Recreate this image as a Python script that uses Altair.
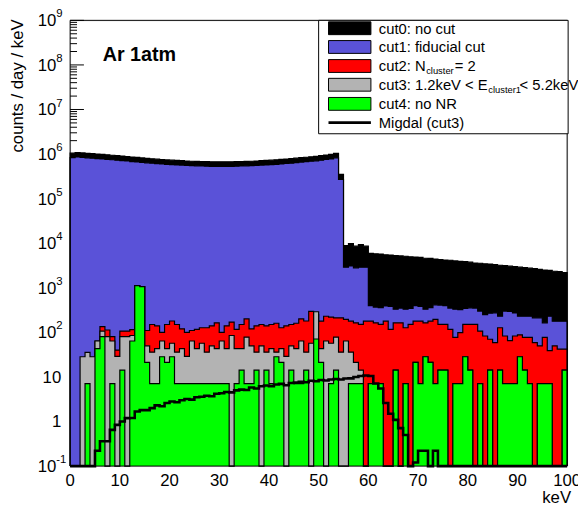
import altair as alt
import pandas as pd

# ---------------- data (1 keV bins, 0..99) ----------------
keV_edges = list(range(0, 101))

cut0 = [1.05e6, 1.08e6, 1.06e6, 1.04e6, 1.02e6, 1.0e6, 9.8e5, 9.6e5, 9.4e5, 9.2e5,
        9.0e5, 8.8e5, 8.6e5, 8.4e5, 8.2e5, 8.0e5, 7.85e5, 7.7e5, 7.55e5, 7.4e5,
        7.3e5, 7.2e5, 7.1e5, 7.0e5, 6.9e5, 6.85e5, 6.8e5, 6.75e5, 6.7e5, 6.7e5,
        6.7e5, 6.7e5, 6.7e5, 6.75e5, 6.8e5, 6.85e5, 6.9e5, 7.0e5, 7.1e5, 7.2e5,
        7.3e5, 7.45e5, 7.6e5, 7.75e5, 7.9e5, 8.1e5, 8.3e5, 8.5e5, 8.7e5, 8.9e5,
        9.2e5, 9.5e5, 9.8e5, 1.04e6, 3.5e5, 8.9e3, 9.8e3, 8.6e3, 9.3e3, 8.6e3,
        5.9e3, 5.8e3, 5.7e3, 5.5e3, 5.45e3, 5.3e3, 5.2e3, 5.1e3, 4.95e3, 4.9e3,
        4.8e3, 4.6e3, 4.55e3, 4.4e3, 4.3e3, 4.2e3, 4.15e3, 4.0e3, 3.9e3, 3.85e3,
        3.75e3, 3.6e3, 3.55e3, 3.45e3, 3.4e3, 3.3e3, 3.2e3, 3.15e3, 3.05e3, 3.0e3,
        2.9e3, 2.85e3, 2.75e3, 2.7e3, 2.6e3, 2.5e3, 2.45e3, 2.35e3, 2.3e3, 2.2e3]

cut1 = [8.3e5, 8.6e5, 8.4e5, 8.25e5, 8.1e5, 7.9e5, 7.8e5, 7.6e5, 7.45e5, 7.3e5,
        7.15e5, 7.0e5, 6.8e5, 6.65e5, 6.5e5, 6.35e5, 6.25e5, 6.1e5, 6.0e5, 5.85e5,
        5.8e5, 5.7e5, 5.65e5, 5.55e5, 5.5e5, 5.45e5, 5.4e5, 5.35e5, 5.3e5, 5.3e5,
        5.3e5, 5.3e5, 5.3e5, 5.35e5, 5.4e5, 5.45e5, 5.5e5, 5.55e5, 5.65e5, 5.7e5,
        5.8e5, 5.9e5, 6.0e5, 6.15e5, 6.25e5, 6.45e5, 6.6e5, 6.75e5, 6.9e5, 7.05e5,
        7.3e5, 7.55e5, 7.8e5, 8.25e5, 2.7e5, 2.9e3, 3.1e3, 2.8e3, 2.9e3, 2.9e3,
        400, 370, 360, 390, 380, 330, 350, 330, 345, 400,
        380, 330, 360, 415, 410, 400, 350, 330, 325, 345,
        355, 350, 300, 250, 270, 275, 230, 300, 295, 273,
        230, 230, 230, 212, 212, 164, 230, 178, 178, 178]

cut2 = [0, 0, 0, 0, 0, 64, 134, 113, 80, 40,
        107, 107, 115, 1120, 1060, 110, 150, 140, 100, 150,
        180, 150, 120, 100, 110, 117, 127, 127, 140, 164,
        100, 140, 170, 117, 150, 200, 120, 140, 150, 140,
        150, 160, 127, 140, 150, 160, 200, 180, 297, 251,
        178, 230, 220, 212, 212, 195, 178, 164, 151, 178,
        178, 164, 151, 178, 117, 164, 164, 127, 151, 178,
        178, 164, 178, 195, 151, 151, 117, 77, 99, 151,
        151, 151, 107, 83, 70, 59, 127, 83, 65, 83,
        88, 77, 77, 59, 50, 77, 39, 50, 42, 42]

cut3 = [0, 0, 28.4, 35.5, 28.4, 64, 107, 80, 64, 29,
        80, 80, 85, 1120, 1060, 50, 36, 43, 64, 43,
        57, 36, 43, 29, 64, 43, 57, 36, 50, 43,
        64, 43, 85, 43, 43, 78, 50, 36, 50, 36,
        43, 36, 43, 29, 50, 43, 64, 36, 57, 290,
        43, 64, 57, 78, 36, 64, 36, 21.3, 14.2, 0,
        7.1, 7.1, 7.1, 0, 0, 14.2, 0, 7.1, 0, 21.3,
        7.1, 28.4, 21.3, 7.1, 14.2, 14.2, 0, 7.1, 7.1, 28.4,
        14.2, 0, 7.1, 0, 14.2, 0, 14.2, 7.1, 7.1, 7.1,
        28.4, 14.2, 7.1, 0, 7.1, 7.1, 7.1, 0, 0, 14.2]

cut4 = [0, 0, 0, 7.1, 0, 43, 80, 0, 7.1, 0,
        14.2, 0, 64, 1120, 1060, 21.3, 7.1, 7.1, 28.4, 21.3,
        28.4, 7.1, 7.1, 7.1, 7.1, 7.1, 7.1, 7.1, 7.1, 7.1,
        7.1, 7.1, 0, 7.1, 14.2, 7.1, 7.1, 14.2, 0, 14.2,
        7.1, 28.4, 21.3, 0, 14.2, 7.1, 7.1, 14.2, 0, 71,
        21.3, 0, 7.1, 14.2, 0, 0, 7.1, 7.1, 7.1, 0,
        7.1, 7.1, 7.1, 0, 0, 14.2, 0, 7.1, 0, 21.3,
        7.1, 28.4, 21.3, 7.1, 14.2, 14.2, 0, 7.1, 7.1, 28.4,
        14.2, 0, 7.1, 0, 14.2, 0, 14.2, 7.1, 7.1, 7.1,
        28.4, 14.2, 7.1, 0, 7.1, 7.1, 7.1, 0, 0, 14.2]

migdal = [0, 0, 0, 0, 0, 0.22, 0.36, 0.36, 0.65, 0.84,
          1.0, 1.19, 1.2, 1.67, 1.8, 1.8, 2.0, 2.3, 2.2, 2.6,
          2.8, 2.7, 3.0, 3.2, 3.1, 3.5, 3.6, 3.8, 3.7, 4.2,
          4.3, 4.6, 4.5, 5.0, 5.2, 5.1, 5.8, 5.5, 6.2, 6.4,
          6.2, 6.8, 7.0, 6.5, 7.3, 7.5, 7.8, 7.6, 8.2, 8.0,
          8.5, 8.3, 8.8, 9.0, 8.8, 9.2, 9.3, 10.0, 10.5, 10.8,
          10.5, 7.1, 5.5, 2.6, 1.5, 1.09, 0.71, 0.5, 0, 0.12,
          0.22, 0.22, 0, 0.22, 0, 0, 0, 0, 0, 0,
          0, 0, 0, 0, 0, 0, 0, 0, 0, 0,
          0, 0, 0, 0, 0, 0, 0, 0, 0, 0]

y_major = [0.1, 1, 10, 1e2, 1e3, 1e4, 1e5, 1e6, 1e7, 1e8, 1e9]
y_exp_labels = ["-1", "", "", "2", "3", "4", "5", "6", "7", "8", "9"]
y_base_labels = ["10", "1", "10", "10", "10", "10", "10", "10", "10", "10", "10"]
x_ticks = [0, 10, 20, 30, 40, 50, 60, 70, 80, 90, 100]

legend_labels = ["cut0: no cut", "cut1: fiducial cut", "cut2: N", "cut3: 1.2keV < E",
                 "cut4: no NR", "Migdal (cut3)"]
colors = ["#000000", "#5a52d8", "#ff0000", "#b3b3b3", "#00ff00"]

# ---------------- layout ----------------
W, H = 504, 452
FONT = "Liberation Sans"

xs = alt.Scale(domain=[0, 100], nice=False, zero=False)
ys = alt.Scale(type="log", domain=[0.1, 1e9], clamp=True, nice=False)
one = pd.DataFrame({"a": [0]})


def step_frames(vals):
    fill = pd.DataFrame({"x": keV_edges, "v": vals + [vals[-1]]})
    xo = [0] + keV_edges + [100]
    vo = [0] + vals + [vals[-1], 0]
    line = pd.DataFrame({"x": xo, "v": vo, "o": list(range(len(xo)))})
    return fill, line


VEXPR = "datum.v > 0 ? datum.v : 0.001"
layers = []

# y ticks (inside the frame, under the histograms)
minor = [m * 10 ** e for e in range(-1, 9) for m in range(2, 10)]
tick_df = pd.DataFrame({"t": y_major + minor,
                        "x0": [0.0] * (len(y_major) + len(minor)),
                        "x1": [14 * 100 / W] * len(y_major) + [7 * 100 / W] * len(minor)})
layers.append(alt.Chart(tick_df).mark_rule(color="black", strokeWidth=1).encode(
    y=alt.Y("t:Q", scale=ys, axis=None),
    x=alt.X("x0:Q", scale=xs, axis=None), x2="x1:Q"))

for vals, col in zip([cut0, cut1, cut2, cut3, cut4], colors):
    fill, line = step_frames(vals)
    layers.append(alt.Chart(fill).mark_area(interpolate="step-after", color=col, opacity=1)
                  .transform_calculate(vv=VEXPR)
                  .encode(x=alt.X("x:Q", scale=xs, axis=None),
                          y=alt.Y("vv:Q", scale=ys, axis=None),
                          y2=alt.value(H)))
    layers.append(alt.Chart(line).mark_line(interpolate="step-after", color="black", strokeWidth=1.2)
                  .transform_calculate(vv=VEXPR)
                  .encode(x=alt.X("x:Q", scale=xs, axis=None),
                          y=alt.Y("vv:Q", scale=ys, axis=None), order="o:Q"))

mfill, mline = step_frames(migdal)
layers.append(alt.Chart(mline).mark_line(interpolate="step-after", color="black", strokeWidth=2.6)
              .transform_calculate(vv=VEXPR)
              .encode(x=alt.X("x:Q", scale=xs, axis=None),
                      y=alt.Y("vv:Q", scale=ys, axis=None), order="o:Q"))

# frame
layers.append(alt.Chart(one).mark_rect(fillOpacity=0, stroke="black", strokeWidth=1)
              .encode(x=alt.value(0), x2=alt.value(W), y=alt.value(0), y2=alt.value(H)))

# x axis labels
xl = pd.DataFrame({"x": x_ticks, "lab": [str(t) for t in x_ticks]})
layers.append(alt.Chart(xl).mark_text(font=FONT, fontSize=17, baseline="top")
              .encode(x=alt.X("x:Q", scale=xs, axis=None), y=alt.value(H + 7), text="lab:N"))

# y axis labels
yl = pd.DataFrame({"t": y_major, "base": y_base_labels, "ex": y_exp_labels})
layers.append(alt.Chart(yl).transform_filter("datum.ex != ''")
              .mark_text(font=FONT, fontSize=17, align="right", baseline="middle", dy=1)
              .encode(y=alt.Y("t:Q", scale=ys, axis=None), x=alt.value(-14), text="base:N"))
layers.append(alt.Chart(yl).transform_filter("datum.ex == ''")
              .mark_text(font=FONT, fontSize=17, align="right", baseline="middle", dy=1)
              .encode(y=alt.Y("t:Q", scale=ys, axis=None), x=alt.value(-9), text="base:N"))
layers.append(alt.Chart(yl).transform_filter("datum.ex != ''")
              .mark_text(font=FONT, fontSize=11.5, align="left", baseline="middle", dy=-6)
              .encode(y=alt.Y("t:Q", scale=ys, axis=None), x=alt.value(-14), text="ex:N"))

# titles
layers.append(alt.Chart(one).mark_text(
    font=FONT, fontSize=17, text="counts / day / keV", angle=270, align="right", baseline="middle")
    .encode(x=alt.value(-53), y=alt.value(-1)))
layers.append(alt.Chart(one).mark_text(
    font=FONT, fontSize=17, text="keV", align="right", baseline="alphabetic")
    .encode(x=alt.value(W + 4), y=alt.value(H + 37)))
layers.append(alt.Chart(one).mark_text(
    font=FONT, fontSize=20, fontWeight="bold", text="Ar 1atm", align="left", baseline="alphabetic")
    .encode(x=alt.value(33), y=alt.value(41)))

# legend
LX0, LX1, LY0, LY1 = 252, 505, 0, 115
layers.append(alt.Chart(one).mark_rect(fill="white", stroke="black", strokeWidth=1)
              .encode(x=alt.value(LX0), x2=alt.value(LX1), y=alt.value(LY0), y2=alt.value(LY1)))
row_y = [8, 27, 46.3, 65.3, 84.7, 103.7]
for i, col in enumerate(colors):
    layers.append(alt.Chart(one).mark_rect(fill=col, stroke="black", strokeWidth=1)
                  .encode(x=alt.value(262), x2=alt.value(305),
                          y=alt.value(row_y[i] - 6.5), y2=alt.value(row_y[i] + 6.5)))
layers.append(alt.Chart(one).mark_rule(color="black", strokeWidth=2.6)
              .encode(x=alt.value(262), x2=alt.value(305), y=alt.value(row_y[5])))

AW = {"c": .5, "u": .556, "t": .278, "0": .556, "1": .556, "2": .556, "3": .556, "4": .556,
      "5": .556, ":": .278, " ": .278, "N": .722, ".": .278, "k": .5, "e": .556, "V": .667,
      "<": .584, "E": .667, "=": .584, "l": .222, "s": .5, "r": .333}


def tw(s, size):
    return sum(AW.get(ch, .556) for ch in s) * size


TX = 313
FS = 15
SS = 9.5
for i, lab in enumerate(legend_labels):
    layers.append(alt.Chart(one).mark_text(
        font=FONT, fontSize=FS, text=lab, align="left", baseline="middle")
        .encode(x=alt.value(TX), y=alt.value(row_y[i] + 0.5)))

subs = [(2, "cut2: N", "cluster", " = 2", 1.0), (3, "cut3: 1.2keV < E", "cluster1", " < 5.2keV", -1.5)]
for row, main, sub, rest, gap in subs:
    x1 = TX + tw(main, FS) + 0.5
    layers.append(alt.Chart(one).mark_text(
        font=FONT, fontSize=SS, text=sub, align="left", baseline="middle")
        .encode(x=alt.value(x1), y=alt.value(row_y[row] + 5)))
    x2 = x1 + tw(sub, SS) + gap
    layers.append(alt.Chart(one).mark_text(
        font=FONT, fontSize=FS, text=rest, align="left", baseline="middle")
        .encode(x=alt.value(x2), y=alt.value(row_y[row] + 0.5)))

chart = alt.layer(*layers).properties(
    width=W, height=H,
    autosize=alt.AutoSizeParams(type="none"),
    padding={"left": 63, "top": 9, "right": 11, "bottom": 41},
).configure_view(stroke=None).configure(background="white")

chart.save("out.html", embed_options={"renderer": "svg", "actions": False})
